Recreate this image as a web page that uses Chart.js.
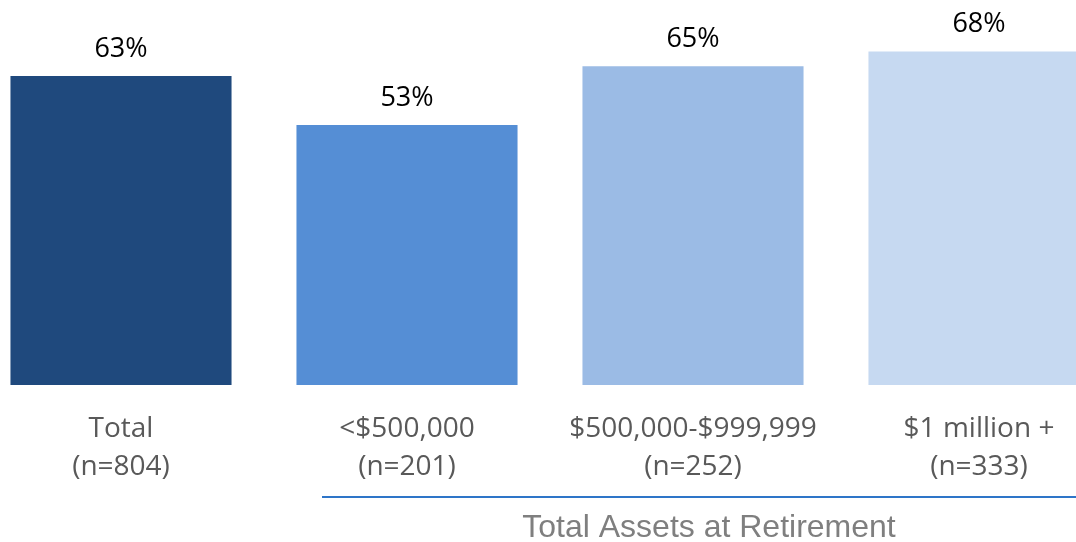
<!DOCTYPE html>
<html>
<head>
<meta charset="utf-8">
<script src="https://cdn.jsdelivr.net/npm/chart.js@4"></script>
<style>
    html, body { margin: 0; padding: 0; background: #fff; overflow: hidden; }
    .chart-container { position: absolute; left: -22px; top: 0; width: 1144px; height: 542px; }
</style>
</head>
<body>
<div class="chart-container"><canvas id="assetsChart"></canvas></div>
<script>
const categories = [['Total', '(n=804)'], ['<$500,000', '(n=201)'], ['$500,000-$999,999', '(n=252)'], ['$1 million +', '(n=333)']];
const values = [63, 53, 65, 68];
const barColors = ['#1F497D', '#558ED5', '#9BBBE5', '#C6D9F1'];
const groupTitle = 'Total Assets at Retirement';

const overlay = {
    id: 'overlay',
    afterDatasetsDraw(chart) {
        const ctx = chart.ctx;
        const meta = chart.getDatasetMeta(0);
        ctx.save();
        ctx.fillStyle = '#000';
        ctx.font = '27px "Open Sans"';
        ctx.textAlign = 'center';
        ctx.textBaseline = 'middle';
        meta.data.forEach((bar, i) => {
            ctx.fillText(values[i] + '%', bar.x, bar.y - 27);
        });

        // group line under the three asset bands
        const x = chart.scales.x;
        const left = x.getPixelForValue(1) - 85;
        const right = chart.width;
        ctx.strokeStyle = '#2E75C8';
        ctx.lineWidth = 2;
        ctx.beginPath();
        ctx.moveTo(left, 497);
        ctx.lineTo(right, 497);
        ctx.stroke();

        ctx.fillStyle = '#7F7F7F';
        ctx.font = '32px "Liberation Sans"';
        ctx.fillText(groupTitle, x.getPixelForValue(2) + 16, 528);
        ctx.restore();
    }
};

new Chart(document.getElementById('assetsChart'), {
    type: 'bar',
    data: {
        labels: categories,
        datasets: [{
            data: values,
            backgroundColor: barColors,
            barPercentage: 0.773,
            categoryPercentage: 1
        }]
    },
    options: {
        responsive: true,
        maintainAspectRatio: false,
        animation: false,
        layout: { padding: 0 },
        plugins: {
            legend: { display: false },
            tooltip: { enabled: false }
        },
        scales: {
            y: {
                display: false,
                min: 0,
                max: 78.5
            },
            x: {
                grid: { display: false },
                border: { display: false },
                ticks: {
                    color: '#595959',
                    font: { family: 'Open Sans', size: 28, lineHeight: 1.36 },
                    padding: 17,
                    maxRotation: 0,
                    autoSkip: false
                },
                afterFit(scale) { scale.height = 157; }
            }
        }
    },
    plugins: [overlay]
});
</script>
</body>
</html>
